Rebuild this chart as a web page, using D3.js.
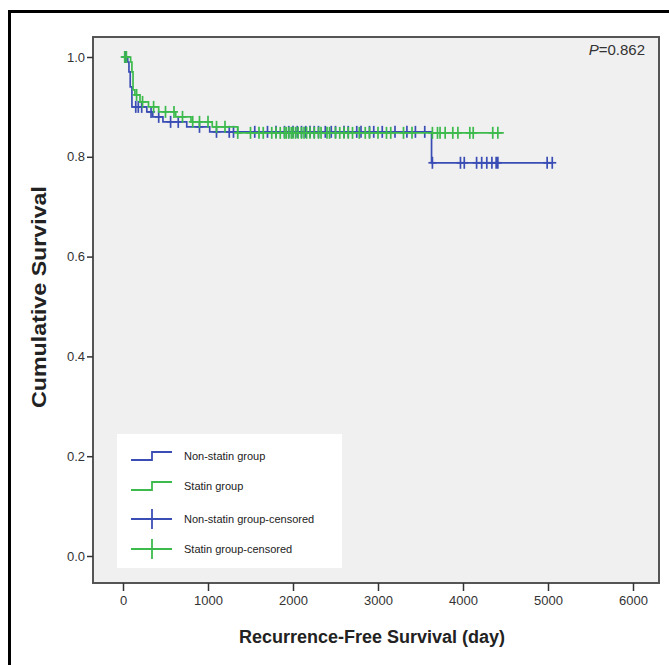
<!DOCTYPE html>
<html>
  <head>
    <meta charset="utf-8">
    <title>Recurrence-Free Survival</title>
    <style>
      body { margin: 0; background: white; }
      text { font-family: "Liberation Sans", Arial, sans-serif; }
      .axis path, .axis line { stroke: #333; stroke-width: 1.5; }
      .axis text { fill: #333; font-size: 13px; }
      .legend text { font-size: 11px; fill: #222; }
    </style>
    <script src="https://d3js.org/d3.v7.min.js"></script>
  </head>
  <body>
    <script>
      // Kaplan-Meier steps
      const nonStatinTime = [0, 55, 70, 85, 105, 280, 350, 470, 750, 1020, 3630];
      const nonStatinSurv = [1, 0.99, 0.97, 0.94, 0.90, 0.89, 0.88, 0.87, 0.86, 0.85, 0.788];
      const nonStatinEnd = 5050;
      const nonStatinCensor = [30, 150, 180, 220, 330, 420, 560, 650, 900, 1100, 1250, 1300, 1550, 1700,
        1800, 1900, 1950, 2000, 2050, 2100, 2150, 2200, 2250, 2300, 2380, 2450, 2500, 2600, 2650, 2750,
        2800, 2900, 2950, 3050, 3200, 3340, 3440, 3550, 3640, 3970, 4015, 4160, 4220, 4280, 4340, 4390,
        4410, 4990, 5050];

      const statinTime = [0, 90, 105, 118, 140, 200, 300, 420, 620, 800, 1050, 1350];
      const statinSurv = [1, 0.99, 0.97, 0.934, 0.924, 0.91, 0.9, 0.89, 0.88, 0.87, 0.86, 0.848];
      const statinEnd = 4480;
      const statinCensor = [20, 40, 160, 230, 360, 500, 600, 700, 820, 900, 1000, 1100, 1200, 1350, 1500,
        1600, 1650, 1750, 1800, 1850, 1900, 1920, 1950, 1980, 2000, 2030, 2060, 2100, 2130, 2160, 2200,
        2250, 2300, 2330, 2400, 2430, 2500, 2550, 2600, 2650, 2700, 2780, 2850, 2900, 3000, 3100, 3150,
        3300, 3400, 3640, 3700, 3730, 3790, 3880, 3940, 4080, 4120, 4350, 4410];

      const xTicks = [0, 1000, 2000, 3000, 4000, 5000, 6000];
      const yTicks = [0, 0.2, 0.4, 0.6, 0.8, 1.0];
      const legendLabels = ["Non-statin group", "Statin group", "Non-statin group-censored", "Statin group-censored"];

      const blue = "#3a4db5";
      const green = "#3cba4c";

      const width = 669, height = 665;
      const box = { left: 93, right: 659, top: 37, bottom: 583 };

      const x = d3.scaleLinear().domain([0, 6000]).range([123, 633]);
      const y = d3.scaleLinear().domain([0, 1]).range([556, 57]);

      const svg = d3.select('body').append('svg')
        .attr('width', width)
        .attr('height', height);

      // outer frame
      svg.append('rect')
        .attr('x', 9.5).attr('y', 11.5)
        .attr('width', width + 20).attr('height', height + 20)
        .attr('fill', 'white').attr('stroke', 'black').attr('stroke-width', 3);

      // plot panel
      svg.append('rect')
        .attr('x', box.left).attr('y', box.top)
        .attr('width', box.right - box.left).attr('height', box.bottom - box.top)
        .attr('fill', '#f0f0f0').attr('stroke', '#555').attr('stroke-width', 2);

      svg.append('g').attr('class', 'x axis')
        .attr('transform', `translate(0, ${box.bottom})`)
        .call(d3.axisBottom(x).tickValues(xTicks).tickSize(8).tickPadding(5).tickFormat(d3.format('d')))
        .call(g => g.select('.domain').remove());

      svg.append('g').attr('class', 'y axis')
        .attr('transform', `translate(${box.left}, 0)`)
        .call(d3.axisLeft(y).tickValues(yTicks).tickSize(6).tickPadding(2).tickFormat(d3.format('.1f')))
        .call(g => g.select('.domain').remove());

      svg.append('text')
        .attr('transform', `translate(46, 297) rotate(-90)`)
        .attr('text-anchor', 'middle')
        .attr('font-size', 21).attr('font-weight', 'bold').attr('fill', '#222')
        .attr('textLength', 222).attr('lengthAdjust', 'spacingAndGlyphs')
        .text('Cumulative Survival');

      svg.append('text')
        .attr('x', 372).attr('y', 643)
        .attr('text-anchor', 'middle')
        .attr('font-size', 18).attr('font-weight', 'bold').attr('fill', '#222')
        .text('Recurrence-Free Survival (day)');

      const p = svg.append('text')
        .attr('x', 645).attr('y', 55)
        .attr('text-anchor', 'end')
        .attr('font-size', 15).attr('fill', '#333');
      p.append('tspan').attr('font-style', 'italic').text('P');
      p.append('tspan').text('=0.862');

      function stepAt(times, survs, t) {
        const i = d3.bisectRight(times, t) - 1;
        return survs[Math.max(0, i)];
      }

      function drawGroup(times, survs, end, censor, color) {
        const pts = times.map((t, i) => [t, survs[i]]);
        pts.push([end, survs[survs.length - 1]]);
        const line = d3.line().x(d => x(d[0])).y(d => y(d[1])).curve(d3.curveStepAfter);
        svg.append('path').datum(pts)
          .attr('d', line)
          .attr('fill', 'none').attr('stroke', color).attr('stroke-width', 1.7);

        const marks = svg.append('g').attr('stroke', color).attr('stroke-width', 1.7);
        censor.forEach(t => {
          const cx = x(t), cy = y(stepAt(times, survs, t));
          marks.append('line').attr('x1', cx).attr('x2', cx).attr('y1', cy - 6).attr('y2', cy + 6);
          marks.append('line').attr('x1', cx - 4).attr('x2', cx + 4).attr('y1', cy).attr('y2', cy);
        });
      }

      drawGroup(nonStatinTime, nonStatinSurv, nonStatinEnd, nonStatinCensor, blue);
      drawGroup(statinTime, statinSurv, statinEnd, statinCensor, green);

      // legend
      const legend = svg.append('g').attr('class', 'legend');
      legend.append('rect')
        .attr('x', 117).attr('y', 434).attr('width', 225).attr('height', 134)
        .attr('fill', 'white');

      const rowY = [456, 486, 519, 549];
      const colors = [blue, green, blue, green];
      legendLabels.forEach((label, i) => {
        const ly = rowY[i];
        const g = legend.append('g').attr('stroke', colors[i]).attr('stroke-width', 1.8).attr('fill', 'none');
        if (i < 2) {
          g.append('path').attr('d', `M131,${ly + 4}H152V${ly - 4}H172`);
        } else {
          g.append('line').attr('x1', 131).attr('x2', 172).attr('y1', ly).attr('y2', ly);
          g.append('line').attr('x1', 152).attr('x2', 152).attr('y1', ly - 10).attr('y2', ly + 10);
        }
        legend.append('text')
          .attr('x', 184).attr('y', ly + 4)
          .text(label);
      });
    </script>
  </body>
</html>
